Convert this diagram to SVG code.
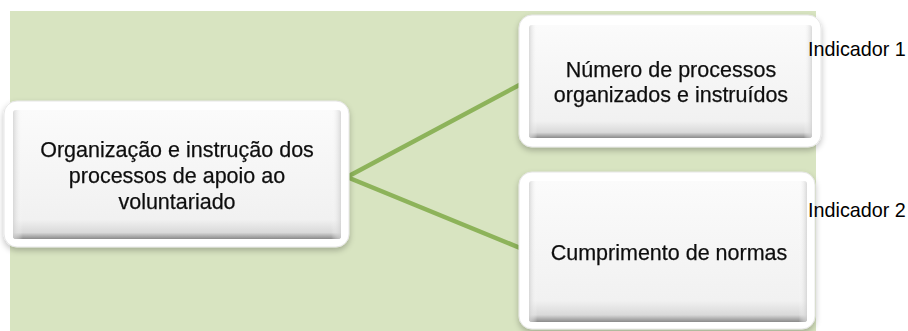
<svg xmlns="http://www.w3.org/2000/svg" width="908" height="331" viewBox="0 0 908 331">
<defs>
<linearGradient id="inner" x1="0" y1="0" x2="0" y2="1">
<stop offset="0" stop-color="#fbfbfb"/>
<stop offset="0.85" stop-color="#f1f1f1"/>
<stop offset="0.95" stop-color="#d9d9d9"/>
<stop offset="1" stop-color="#8a8a8a"/>
</linearGradient>
<linearGradient id="side" x1="0" y1="0" x2="1" y2="0">
<stop offset="0" stop-color="#d0d0d0" stop-opacity="0.8"/>
<stop offset="0.03" stop-color="#ffffff" stop-opacity="0"/>
<stop offset="0.97" stop-color="#ffffff" stop-opacity="0"/>
<stop offset="1" stop-color="#d0d0d0" stop-opacity="0.8"/>
</linearGradient>
<filter id="sh" x="-10%" y="-10%" width="120%" height="130%">
<feGaussianBlur in="SourceAlpha" stdDeviation="3"/>
<feOffset dy="3"/>
<feComponentTransfer><feFuncA type="linear" slope="0.25"/></feComponentTransfer>
<feMerge><feMergeNode/><feMergeNode in="SourceGraphic"/></feMerge>
</filter>
</defs>
<style>
.outer{fill:#ffffff;stroke:#e6e6e6;stroke-width:1}
.inner{fill:url(#inner)}
.edge{fill:url(#side)}
.t{font-family:"Liberation Sans",Arial,sans-serif;font-size:21.5px;fill:#111111;stroke:#111111;stroke-width:0.25;text-anchor:middle}
.ind{font-family:"Liberation Sans",Arial,sans-serif;font-size:19.8px;fill:#000000}
.conn{stroke:#8db35a;stroke-width:4.5;fill:none;stroke-linecap:round;stroke-linejoin:miter}
</style>
<rect x="0" y="0" width="908" height="331" fill="#ffffff"/>
<rect x="10" y="11" width="806" height="320" fill="#d8e4c1"/>
<g id="connectors">
<polyline class="conn" points="525,82 347,177 525,250"/>
</g>
<g id="node-main" filter="url(#sh)">
<rect class="outer" x="4" y="101" width="345" height="146" rx="13"/>
<rect class="inner" x="13" y="110" width="328" height="129" rx="3"/>
<rect class="edge" x="13" y="110" width="328" height="129" rx="3"/>
<text class="t" x="177" y="157">Organização e instrução dos</text>
<text class="t" x="177" y="183">processos de apoio ao</text>
<text class="t" x="177" y="209">voluntariado</text>
</g>
<g id="node-ind1" filter="url(#sh)">
<rect class="outer" x="519" y="15" width="302" height="132" rx="13"/>
<rect class="inner" x="529" y="25" width="283" height="113" rx="3"/>
<rect class="edge" x="529" y="25" width="283" height="113" rx="3"/>
<text class="t" x="671" y="77">Número de processos</text>
<text class="t" x="671" y="102">organizados e instruídos</text>
</g>
<g id="node-ind2" filter="url(#sh)">
<rect class="outer" x="519" y="172" width="296" height="157" rx="13"/>
<rect class="inner" x="529" y="181" width="278" height="141" rx="3"/>
<rect class="edge" x="529" y="181" width="278" height="141" rx="3"/>
<text class="t" x="669" y="260">Cumprimento de normas</text>
</g>
<g id="labels">
<text class="ind" x="808" y="56">Indicador 1</text>
<text class="ind" x="808" y="217">Indicador 2</text>
</g>
</svg>
